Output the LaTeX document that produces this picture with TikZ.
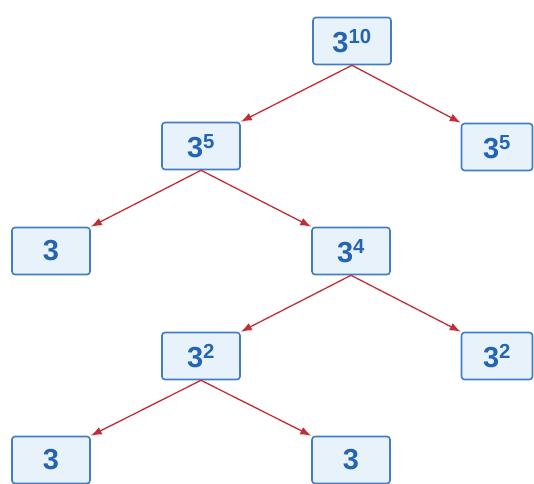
\documentclass[tikz,border=0pt]{standalone}
\usepackage{fontspec}
\setsansfont{Liberation Sans}
\usetikzlibrary{arrows.meta}
\definecolor{boxblue}{RGB}{65,125,195}
\definecolor{boxfill}{RGB}{232,242,250}
\definecolor{numblue}{RGB}{35,100,180}
\definecolor{arrowred}{RGB}{195,45,55}
\tikzset{> = {Latex[length=11pt,width=8pt]},
	power/.style={draw=boxblue, fill=boxfill, line width=1.6pt, rounded corners=3pt,
		minimum width=78pt, minimum height=47pt, inner sep=0pt, text=numblue,
		font=\sffamily\bfseries\fontsize{29}{32}\selectfont},
	split/.style={->, draw=arrowred, line width=1.3pt}}

\begin{document}
\begin{tikzpicture}[x=1pt,y=-1pt]
	\useasboundingbox (0,0) rectangle (534,483);
	% row by row, columns at 51, 201, 351 and 497
	\node[power] (T) at (352,41){3\textsuperscript{10}};
	\node[power] (A) at (201,146){3\textsuperscript{5}};
	\node[power, minimum width=71pt] (B) at (497,147){3\textsuperscript{5}};
	\node[power] (C) at (51,251){3};
	\node[power] (D) at (351,251){3\textsuperscript{4}};
	\node[power] (E) at (201,356){3\textsuperscript{2}};
	\node[power, minimum width=71pt] (F) at (497,356){3\textsuperscript{2}};
	\node[power] (G) at (51,460){3};
	\node[power] (H) at (351,460){3};
	\draw[split] (T.south)--(A.north east);
	\draw[split] (T.south)--(B.north west);
	\draw[split] (A.south)--(C.north east);
	\draw[split] (A.south)--(D.north west);
	\draw[split] (D.south)--(E.north east);
	\draw[split] (D.south)--(F.north west);
	\draw[split] (E.south)--(G.north east);
	\draw[split] (E.south)--(H.north west);
\end{tikzpicture}
\end{document}
